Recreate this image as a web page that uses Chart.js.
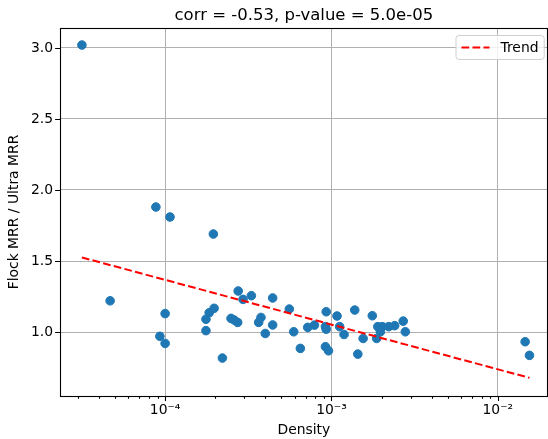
<!DOCTYPE html>
<html>
<head>
<meta charset="utf-8">
<script src="https://cdn.jsdelivr.net/npm/chart.js@4"></script>
<style>
  html, body { margin: 0; padding: 0; background: #fff; overflow: hidden; }
  #wrap { width: 553px; height: 439px; }
</style>
</head>
<body>
<div id="wrap"><canvas id="scatterChart"></canvas></div>
<script>
// values
const density = [3.16e-5, 4.67e-5, 8.8e-5, 1.07e-4, 1.95e-4, 9.3e-5, 1.0e-4, 1.0e-4, 1.76e-4, 1.84e-4,
    1.97e-4, 1.76e-4, 2.21e-4, 2.75e-4, 2.94e-4, 3.3e-4, 2.49e-4, 2.6e-4, 2.73e-4, 4.43e-4,
    3.77e-4, 3.65e-4, 4.0e-4, 4.43e-4, 5.58e-4, 5.93e-4, 6.5e-4, 7.2e-4, 7.9e-4, 9.3e-4,
    9.2e-4, 9.3e-4, 1.08e-3, 1.12e-3, 1.19e-3, 9.2e-4, 9.6e-4, 1.38e-3, 1.44e-3, 1.55e-3,
    1.76e-3, 1.87e-3, 1.9e-3, 2.02e-3, 1.97e-3, 2.21e-3, 2.4e-3, 2.7e-3, 2.78e-3, 1.46e-2, 1.55e-2];
const mrrRatio = [3.02, 1.22, 1.88, 1.81, 1.69, 0.97, 1.13, 0.92, 1.09, 1.136,
    1.167, 1.01, 0.817, 1.289, 1.23, 1.256, 1.096, 1.085, 1.068, 1.24,
    1.103, 1.068, 0.99, 1.05, 1.162, 1.002, 0.885, 1.033, 1.049, 1.143,
    1.038, 1.02, 1.113, 1.038, 0.983, 0.897, 0.868, 1.155, 0.845, 0.955,
    1.115, 0.955, 1.038, 1.038, 1.002, 1.038, 1.045, 1.077, 1.002, 0.932, 0.836];
const trendX = [3.16e-5, 1.55e-2];
const trendY = [1.525, 0.678];

const xMajorTicks = [1e-4, 1e-3, 1e-2];
const xMajorLabels = ['10⁻⁴', '10⁻³', '10⁻²'];
const xMinorTicks = [3e-5, 4e-5, 5e-5, 6e-5, 7e-5, 8e-5, 9e-5,
    2e-4, 3e-4, 4e-4, 5e-4, 6e-4, 7e-4, 8e-4, 9e-4,
    2e-3, 3e-3, 4e-3, 5e-3, 6e-3, 7e-3, 8e-3, 9e-3, 2e-2];
const yTicks = [1.0, 1.5, 2.0, 2.5, 3.0];

const titleText = 'corr = -0.53, p-value = 5.0e-05';
const FONT = "'DejaVu Sans', sans-serif";

const isMajor = v => xMajorTicks.some(m => Math.abs(v / m - 1) < 1e-6);

// frame, tick marks, title and legend drawn matplotlib-style
const mplDecor = {
    id: 'mplDecor',
    afterDraw(chart) {
        const c = chart.ctx;
        const a = chart.chartArea;
        const xs = chart.scales.x, ys = chart.scales.y;
        c.save();
        c.strokeStyle = '#000';
        c.lineWidth = 1.1;
        c.beginPath();
        xs.ticks.forEach(t => {
            const px = Math.round(xs.getPixelForValue(t.value)) + 0.5;
            const len = isMajor(t.value) ? 4.9 : 2.8;
            c.moveTo(px, a.bottom);
            c.lineTo(px, a.bottom + len);
        });
        ys.ticks.forEach(t => {
            const py = Math.round(ys.getPixelForValue(t.value)) + 0.5;
            c.moveTo(a.left, py);
            c.lineTo(a.left - 4.9, py);
        });
        c.stroke();
        c.strokeRect(Math.round(a.left) + 0.5, Math.round(a.top) + 0.5,
            Math.round(a.right - a.left) - 1, Math.round(a.bottom - a.top));

        // title
        c.fillStyle = '#000';
        c.font = '16.5px ' + FONT;
        c.textAlign = 'center';
        c.textBaseline = 'alphabetic';
        c.fillText(titleText, (a.left + a.right) / 2, a.top - 8);

        // legend
        c.font = '13.9px ' + FONT;
        const label = chart.data.datasets[0].label;
        const tw = c.measureText(label).width;
        const bw = 5.6 + 28 + 11 + tw + 5.6;
        const bh = 24;
        const bx = a.right - 4 - bw, by = a.top + 7;
        c.fillStyle = 'rgba(255,255,255,0.8)';
        c.strokeStyle = '#d0d0d0';
        c.lineWidth = 1;
        c.beginPath();
        c.roundRect(bx + 0.5, by + 0.5, bw, bh, 3);
        c.fill();
        c.stroke();
        c.strokeStyle = 'red';
        c.lineWidth = 2;
        c.setLineDash([7.7, 3.3]);
        c.beginPath();
        c.moveTo(bx + 6, by + bh / 2 + 0.5);
        c.lineTo(bx + 34, by + bh / 2 + 0.5);
        c.stroke();
        c.setLineDash([]);
        c.fillStyle = '#000';
        c.textAlign = 'left';
        c.textBaseline = 'middle';
        c.fillText(label, bx + 45, by + bh / 2 + 1);
        c.restore();
    }
};

const ctx = document.getElementById('scatterChart').getContext('2d');
const scatterChart = new Chart(ctx, {
    type: 'scatter',
    data: {
        datasets: [
            {
                label: 'Trend',
                type: 'line',
                data: trendX.map((x, i) => ({ x: x, y: trendY[i] })),
                borderColor: 'red',
                borderWidth: 2,
                borderDash: [7.7, 3.3],
                pointRadius: 0,
                fill: false,
                order: 0
            },
            {
                label: 'points',
                data: density.map((x, i) => ({ x: x, y: mrrRatio[i] })),
                backgroundColor: '#1f77b4',
                borderColor: '#1f77b4',
                pointRadius: 4.3,
                pointHoverRadius: 4.3,
                order: 1
            }
        ]
    },
    options: {
        responsive: true,
        maintainAspectRatio: false,
        animation: false,
        layout: { padding: { top: 28, right: 1, left: 0, bottom: 0 } },
        plugins: {
            legend: { display: false },
            tooltip: { enabled: false }
        },
        scales: {
            x: {
                type: 'logarithmic',
                min: Math.pow(10, -4.632),
                max: Math.pow(10, -1.70),
                border: { display: false },
                afterBuildTicks: s => {
                    s.ticks = xMajorTicks.concat(xMinorTicks).sort((p, q) => p - q).map(v => ({ value: v }));
                },
                afterFit: s => { s.height = 43; s.paddingRight = 0; },
                grid: {
                    drawTicks: false,
                    lineWidth: 1,
                    color: c => (c.tick && isMajor(c.tick.value)) ? '#b0b0b0' : 'rgba(0,0,0,0)'
                },
                ticks: {
                    autoSkip: false,
                    maxRotation: 0,
                    padding: 6,
                    color: '#000',
                    font: { family: FONT, size: 13.9 },
                    callback: v => {
                        const i = xMajorTicks.findIndex(m => Math.abs(v / m - 1) < 1e-6);
                        return i >= 0 ? xMajorLabels[i] : '';
                    }
                },
                title: {
                    display: true,
                    text: 'Density',
                    color: '#000',
                    font: { family: FONT, size: 13.9 },
                    padding: { top: 0, bottom: 0 }
                }
            },
            y: {
                min: 0.55,
                max: 3.14,
                border: { display: false },
                afterBuildTicks: s => { s.ticks = yTicks.map(v => ({ value: v })); },
                afterFit: s => { s.width = 60; },
                grid: { drawTicks: false, color: '#b0b0b0', lineWidth: 1 },
                ticks: {
                    padding: 7,
                    color: '#000',
                    font: { family: FONT, size: 13.9 },
                    callback: v => v.toFixed(1)
                },
                title: {
                    display: true,
                    text: 'Flock MRR / Ultra MRR',
                    color: '#000',
                    font: { family: FONT, size: 13.9 },
                    padding: { top: 6, bottom: 0 }
                }
            }
        }
    },
    plugins: [mplDecor]
});
</script>
</body>
</html>
